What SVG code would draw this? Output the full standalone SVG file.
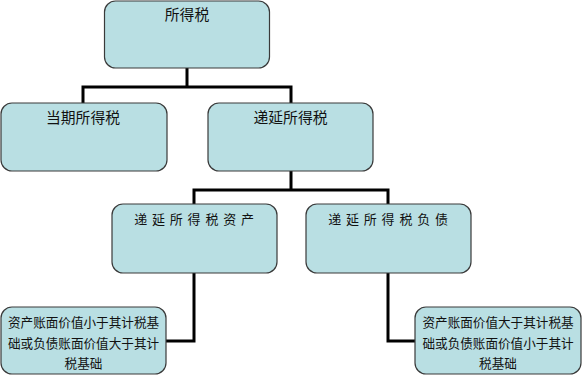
<svg xmlns="http://www.w3.org/2000/svg" width="583" height="384" viewBox="0 0 583 384">
<style>
.box{fill:#b9dfe3;stroke:#3a3a3a;stroke-width:1.2}
.t{font-family:"Noto Sans CJK SC","Noto Sans",sans-serif;font-size:14.8px;fill:#111;text-anchor:middle}
.m{font-size:13px;letter-spacing:4.8px}
.s{font-size:12.6px}
.c{fill:none;stroke:#000;stroke-width:3}
</style>
<rect width="583" height="384" fill="#fff"/>
<g id="connectors">
<path class="c" d="M187,68 V87 M83,103 V87 H291 V103"/>
<path class="c" d="M291,171 V190 M194,204 V190 H388 V204"/>
<path class="c" d="M194,273 V341 H166"/>
<path class="c" d="M388,273 V341 H415"/>
</g>
<g id="n1"><rect class="box" x="104.5" y="1" width="165" height="67" rx="11"/><text class="t" x="187" y="20">所得税</text></g>
<g id="n2"><rect class="box" x="1" y="103" width="166" height="68" rx="11"/><text class="t" x="83" y="123">当期所得税</text></g>
<g id="n3"><rect class="box" x="208" y="103" width="165" height="68" rx="11"/><text class="t" x="290.5" y="123">递延所得税</text></g>
<g id="n4"><rect class="box" x="112" y="204" width="165" height="69" rx="11"/><text class="t m" x="196.5" y="224">递延所得税资产</text></g>
<g id="n5"><rect class="box" x="306" y="204" width="165" height="69" rx="11"/><text class="t m" x="390.5" y="224">递延所得税负债</text></g>
<g id="n6"><rect class="box" x="1" y="307" width="165" height="67" rx="11"/>
<text class="t s" x="83.5" y="327">资产账面价值小于其计税基</text>
<text class="t s" x="83.5" y="348">础或负债账面价值大于其计</text>
<text class="t s" x="83.5" y="368">税基础</text></g>
<g id="n7"><rect class="box" x="415" y="307" width="166" height="67" rx="11"/>
<text class="t s" x="498" y="327">资产账面价值大于其计税基</text>
<text class="t s" x="498" y="348">础或负债账面价值小于其计</text>
<text class="t s" x="498" y="368">税基础</text></g>
</svg>
